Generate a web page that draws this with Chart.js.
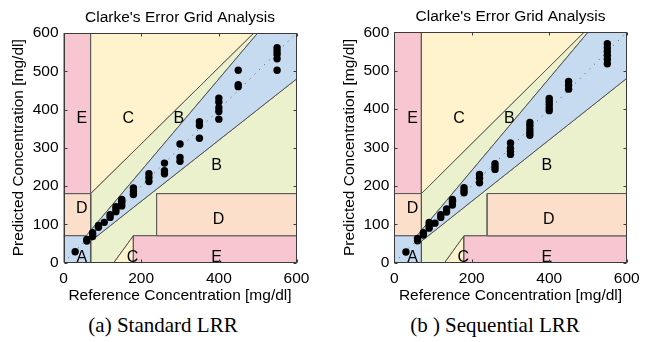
<!DOCTYPE html>
<html><head><meta charset="utf-8">
<script src="https://cdn.jsdelivr.net/npm/chart.js@4/dist/chart.umd.min.js"></script>
<style>
html,body{margin:0;padding:0;background:#fff;}
#wrap{position:relative;width:654px;height:342px;overflow:hidden;background:#fff;}
.box{position:absolute;top:0;width:320px;height:310px;}
.cap{position:absolute;top:313px;font-family:"Liberation Serif","Times New Roman",serif;font-size:21px;line-height:25px;color:#000;white-space:nowrap;transform:translateX(-50%);}
</style></head><body>
<div id="wrap">
  <div class="box" style="left:0px"><canvas id="c1" width="320" height="310"></canvas></div>
  <div class="box" style="left:331px"><canvas id="c2" width="320" height="310"></canvas></div>
  <div class="cap" style="left:163px">(a) Standard LRR</div>
  <div class="cap" style="left:495px">(b ) Sequential LRR</div>
</div>
<script>
// ---- data: Standard LRR ----
const stdRef  = [30, 60,60, 75,75,75, 90,90, 105, 120,120, 135,135,135, 150,150,150,150, 180,180,180, 220,220,220, 260,260,260, 300,300,300, 350,350,350, 400,400,400,400,400, 450,450,450, 550,550,550,550,550];
const stdPred = [28, 60,56, 78,72,68, 97,92, 105, 125,118, 146,133,140, 165,160,155,148, 195,185,178, 232,222,212, 260,240,232, 310,275,265, 368,358,325, 430,420,405,395,375, 503,465,460, 562,553,545,533,503];
// ---- data: Sequential LRR ----
const seqRef  = [30, 60,60, 75,75, 90,90,90, 105, 120,120, 135,135, 150,150,150, 180,180,180, 220,220,220, 260,260,260, 300,300,300,300, 350,350,350,350,350, 400,400,400,400,400, 450,450,450, 550,550,550,550,550,550];
const seqPred = [28, 63,57, 78,72, 105,97,90, 103, 125,118, 140,132, 165,158,150, 195,188,182, 230,220,208, 258,250,243, 312,298,290,282, 365,357,348,340,332, 428,420,412,403,396, 472,462,452, 570,560,550,540,530,518];

// ---- Clarke error grid zones (data coordinates) ----
const zoneE_upper = [[0,180],[0,600],[70,600],[70,180]];
const zoneC_upper = [[70,180],[70,600],[490,600]];
const zoneB_upper = [[70,84],[70,180],[490,600],[500,600]];
const zoneD_left  = [[0,70],[0,180],[70,180],[70,70]];
const zoneB_lower = [[70,0],[70,56],[600,480],[600,180],[240,180],[240,70],[180,70],[130,0]];
const zoneC_lower = [[130,0],[180,70],[180,0]];
const zoneE_lower = [[180,0],[180,70],[600,70],[600,0]];
const zoneD_right = [[240,70],[240,180],[600,180],[600,70]];
const zoneA       = [[0,0],[0,70],[175/3,70],[500,600],[600,600],[600,480],[70,56],[70,0]];
const diagonal    = [[0,0],[600,600]];

const zoneLabels  = ['E','C','B','D','B','D','A','C','E'];
const zoneLabelX  = [47,167,297,47,394,399,47,178,394];
const zoneLabelY  = [376,376,376,141,254,113,12,12,12];

const xTicks = [0,200,400,600];
const yTicks = [0,100,200,300,400,500,600];

const FONT = '"Liberation Sans", Arial, Helvetica, sans-serif';
const FS = 15.5;
const colors = {
  E:'#f8c6d0', C:'#fef3cd', B:'#ebf1cd', D:'#fbdfcb', A:'#c6daf0'
};
const edge = '#555555';

function pts(arr){ return arr.map(p=>({x:p[0], y:p[1]})); }
function closed(arr){ return pts(arr.concat([arr[0]])); }

const decor = {
  id:'decor',
  afterDatasetsDraw(chart){
    const {ctx, chartArea:a, scales:{x,y}} = chart;
    ctx.save();
    ctx.font = '16px ' + FONT;
    ctx.fillStyle = '#000';
    ctx.textAlign = 'center';
    ctx.textBaseline = 'middle';
    zoneLabels.forEach((t,i)=>ctx.fillText(t, x.getPixelForValue(zoneLabelX[i]), y.getPixelForValue(zoneLabelY[i])));
    ctx.strokeStyle = '#3a3a3a';
    ctx.lineWidth = 1;
    const L = Math.round(a.left)+0.5, R = Math.round(a.right)-0.5, T = Math.round(a.top)+0.5, B = Math.round(a.bottom)-0.5;
    ctx.strokeRect(L, T, R-L, B-T);
    ctx.beginPath();
    xTicks.forEach(v=>{
      const px = Math.round(x.getPixelForValue(v))+0.5;
      ctx.moveTo(px,B); ctx.lineTo(px,B-3);
      ctx.moveTo(px,T); ctx.lineTo(px,T+3);
    });
    yTicks.forEach(v=>{
      const py = Math.round(y.getPixelForValue(v))+0.5;
      ctx.moveTo(L,py); ctx.lineTo(L+3,py);
      ctx.moveTo(R,py); ctx.lineTo(R-3,py);
    });
    ctx.stroke();
    ctx.restore();
  }
};

function zone(poly, color, order){
  return {data: closed(poly), showLine:true, fill:'shape', backgroundColor:color, borderColor:edge,
          borderWidth:1, pointRadius:0, tension:0, order:order};
}

function makeChart(id, xs, ys, g){
  const zones = [
    zone(zoneE_upper, colors.E, 100),
    zone(zoneC_upper, colors.C, 99),
    zone(zoneB_upper, colors.B, 98),
    zone(zoneD_left,  colors.D, 97),
    zone(zoneB_lower, colors.B, 96),
    zone(zoneC_lower, colors.C, 95),
    zone(zoneE_lower, colors.E, 94),
    zone(zoneD_right, colors.D, 93),
    zone(zoneA,       colors.A, 92)
  ];
  const diag = {data: pts(diagonal), showLine:true, fill:false, borderColor:'#6a6a6a', borderWidth:1,
                borderDash:[1.2,5.5], pointRadius:0, order:1};
  const scatter = {data: xs.map((v,i)=>({x:v, y:ys[i]})), showLine:false, pointRadius:3.7,
                   pointBackgroundColor:'#000', pointBorderWidth:0, backgroundColor:'#000', order:0};
  new Chart(document.getElementById(id), {
    type:'scatter',
    data:{datasets:[scatter, diag].concat(zones)},
    options:{
      responsive:false, animation:false, devicePixelRatio:1,
      layout:{padding:{left:0, right:g.padRight, top:0, bottom:0}},
      plugins:{
        legend:{display:false}, tooltip:{enabled:false},
        title:{display:true, text:"Clarke's Error Grid Analysis", fullSize:false, color:'#000',
               font:{family:FONT, size:FS, weight:'normal'}, padding:{top:g.titleTop, bottom:g.titleBottom}}
      },
      scales:{
        x:{type:'linear', min:0, max:600,
           afterFit(s){ s.height = g.xHeight; s.paddingLeft = 0; s.paddingRight = 0; },
           afterBuildTicks(s){ s.ticks = xTicks.map(v=>({value:v})); },
           grid:{display:false, drawTicks:false}, border:{display:false},
           ticks:{color:'#000', font:{family:FONT, size:FS}, padding:7, maxRotation:0},
           title:{display:true, text:'Reference Concentration [mg/dl]', color:'#000', font:{family:FONT, size:FS}, padding:{top:0,bottom:5}}},
        y:{type:'linear', min:0, max:600,
           afterFit(s){ s.width = g.yWidth; s.paddingTop = 0; s.paddingBottom = 0; },
           afterBuildTicks(s){ s.ticks = yTicks.map(v=>({value:v})); },
           grid:{display:false, drawTicks:false}, border:{display:false},
           ticks:{color:'#000', font:{family:FONT, size:FS}, padding:5},
           title:{display:true, text:'Predicted Concentration [mg/dl]', color:'#000', font:{family:FONT, size:FS}, padding:{top:9,bottom:0}}}
      }
    },
    plugins:[decor]
  });
}

makeChart('c1', stdRef, stdPred, {padRight:23.5, titleTop:8, titleBottom:6.5, xHeight:47.5, yWidth:63.5});
makeChart('c2', seqRef, seqPred, {padRight:24.3, titleTop:7.5, titleBottom:6.2, xHeight:47.3, yWidth:63.3});
</script>
</body></html>
